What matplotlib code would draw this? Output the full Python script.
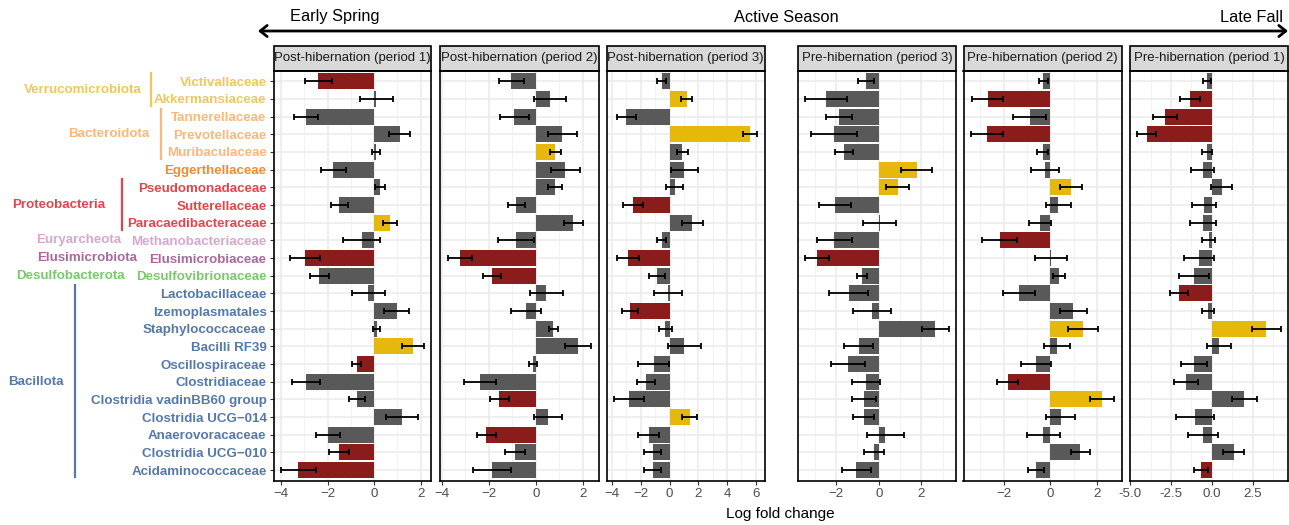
import matplotlib

matplotlib.use("Agg")
import matplotlib.pyplot as plt
import matplotlib.transforms as mtransforms
from matplotlib.patches import FancyArrowPatch, Rectangle
from matplotlib.ticker import FormatStrFormatter, MultipleLocator

# rows, top to bottom
families = [
    "Victivallaceae", "Akkermansiaceae", "Tannerellaceae", "Prevotellaceae",
    "Muribaculaceae", "Eggerthellaceae", "Pseudomonadaceae", "Sutterellaceae",
    "Paracaedibacteraceae", "Methanobacteriaceae", "Elusimicrobiaceae",
    "Desulfovibrionaceae", "Lactobacillaceae", "Izemoplasmatales",
    "Staphylococcaceae", "Bacilli RF39", "Oscillospiraceae", "Clostridiaceae",
    "Clostridia vadinBB60 group", "Clostridia UCG\u2212014", "Anaerovoracaceae",
    "Clostridia UCG\u2212010", "Acidaminococcaceae",
]
phyla = (["Verrucomicrobiota"] * 2 + ["Bacteroidota"] * 3 + [""]
         + ["Proteobacteria"] * 3 + ["Euryarcheota", "Elusimicrobiota",
                                     "Desulfobacterota"] + ["Bacillota"] * 11)

periods = [
    "Post-hibernation (period 1)", "Post-hibernation (period 2)",
    "Post-hibernation (period 3)", "Pre-hibernation (period 3)",
    "Pre-hibernation (period 2)", "Pre-hibernation (period 1)",
]

# log fold change, standard error, significance flag per period
post1_lfc = [-2.40, 0.10, -2.93, 1.10, 0.08, -1.76, 0.24, -1.50, 0.69, -0.54, -2.96, -2.36,
             -0.26, 0.97, 0.11, 1.67, -0.74, -2.93, -0.74, 1.19, -1.99, -1.50, -3.26]
post1_se = [0.57, 0.71, 0.50, 0.44, 0.18, 0.54, 0.22, 0.36, 0.31, 0.78, 0.65, 0.41,
            0.71, 0.53, 0.14, 0.49, 0.19, 0.60, 0.36, 0.68, 0.51, 0.44, 0.76]
post1_sig = [1, 0, 0, 0, 0, 0, 0, 0, 1, 0, 1, 0, 0, 0, 0, 1, 1, 0, 0, 0, 0, 1, 1]

post2_lfc = [-1.05, 0.60, -0.91, 1.12, 0.82, 1.25, 0.82, -0.84, 1.59, -0.84, -3.22, -1.86,
             0.44, -0.41, 0.74, 1.80, -0.11, -2.37, -1.56, 0.52, -2.11, -0.88, -1.86]
post2_se = [0.53, 0.66, 0.62, 0.62, 0.23, 0.60, 0.30, 0.36, 0.40, 0.77, 0.52, 0.38,
            0.70, 0.63, 0.18, 0.55, 0.17, 0.67, 0.40, 0.59, 0.40, 0.41, 0.79]
post2_sig = [0, 0, 0, 0, 1, 0, 0, 0, 0, 0, 1, 1, 0, 0, 0, 0, 0, 0, 1, 0, 1, 0, 0]

post3_lfc = [-0.55, 1.18, -3.00, 5.61, 0.90, 1.04, 0.35, -2.54, 1.59, -0.55, -2.91, -0.90,
             -0.10, -2.77, -0.28, 1.04, -1.11, -1.66, -2.84, 1.39, -1.45, -1.18, -1.18]
post3_se = [0.32, 0.37, 0.67, 0.49, 0.40, 0.96, 0.58, 0.67, 0.73, 0.29, 0.76, 0.56,
            1.00, 0.55, 0.42, 1.13, 1.06, 0.63, 1.04, 0.54, 0.75, 0.59, 0.59]
post3_sig = [0, 1, 0, 1, 0, 0, 0, 1, 0, 0, 1, 0, 0, 1, 0, 0, 0, 0, 0, 1, 0, 0, 0]

pre3_lfc = [-0.59, -2.47, -1.86, -2.09, -1.63, 1.77, 0.88, -2.05, 0.05, -2.09, -2.88, -0.79,
            -1.40, -0.33, 2.65, -0.93, -1.44, -0.60, -0.70, -0.70, 0.31, -0.23, -1.04]
pre3_se = [0.37, 0.97, 0.61, 1.06, 0.42, 0.73, 0.56, 0.74, 0.77, 0.82, 0.55, 0.22,
           0.92, 0.89, 0.63, 0.68, 0.79, 0.66, 0.56, 0.50, 0.87, 0.46, 0.66]
pre3_sig = [0, 0, 0, 0, 0, 1, 1, 0, 0, 0, 1, 0, 0, 0, 0, 0, 0, 0, 0, 0, 0, 0, 0]

pre2_lfc = [-0.30, -2.68, -0.89, -2.72, -0.34, -0.24, 0.88, 0.33, -0.45, -2.17, 0.02, 0.37,
            -1.36, 0.98, 1.40, 0.28, -0.62, -1.83, 2.21, 0.43, -0.30, 1.28, -0.62]
pre2_se = [0.20, 0.67, 0.70, 0.69, 0.23, 0.60, 0.46, 0.54, 0.47, 0.75, 0.70, 0.26,
           0.68, 0.57, 0.63, 0.56, 0.66, 0.44, 0.52, 0.64, 0.70, 0.39, 0.35]
pre2_sig = [0, 1, 0, 1, 0, 0, 1, 0, 0, 1, 0, 0, 0, 0, 1, 0, 0, 1, 1, 0, 0, 0, 0]

pre1_lfc = [-0.30, -1.34, -2.87, -4.00, -0.30, -0.55, 0.61, -0.49, -0.55, -0.18, -0.79, -1.10,
            -2.01, -0.24, 3.35, 0.43, -1.10, -1.59, 1.99, -1.04, -0.55, 1.34, -0.67]
pre1_se = [0.23, 0.59, 0.73, 0.58, 0.28, 0.71, 0.64, 0.72, 0.81, 0.40, 0.91, 0.94,
           0.55, 0.39, 0.88, 0.73, 0.78, 0.74, 0.75, 1.15, 0.93, 0.66, 0.45]
pre1_sig = [0, 1, 1, 1, 0, 0, 0, 0, 0, 0, 0, 0, 1, 0, 1, 0, 0, 0, 0, 0, 0, 0, 1]

panel_data = [
    (post1_lfc, post1_se, post1_sig), (post2_lfc, post2_se, post2_sig),
    (post3_lfc, post3_se, post3_sig), (pre3_lfc, pre3_se, pre3_sig),
    (pre2_lfc, pre2_se, pre2_sig), (pre1_lfc, pre1_se, pre1_sig),
]

phylum_colors = {
    "Verrucomicrobiota": "#EEC85C", "Bacteroidota": "#FAB87C", "": "#F28A2E",
    "Proteobacteria": "#E1464E", "Euryarcheota": "#D6A7CF",
    "Elusimicrobiota": "#A8699D", "Desulfobacterota": "#79C96C",
    "Bacillota": "#5679A8",
}
BAR_DOWN, BAR_UP, BAR_NS = "#8B1C1C", "#E5B80B", "#595959"

W, H = 1289, 525
plt.rcParams["font.family"] = ["Liberation Sans", "DejaVu Sans"]
fig = plt.figure(figsize=(W / 100, H / 100), dpi=100)

panel_left = [273.5, 440.5, 606.5, 798.0, 963.5, 1130.0]
panel_w = 158.0
panel_top, panel_bot = 70.7, 480.7
strip_h = 24.7
rows = list(range(len(families)))

axes = []
for i, (lfc, se, sig) in enumerate(panel_data):
    ax = fig.add_axes([panel_left[i] / W, (H - panel_bot) / H, panel_w / W,
                       (panel_bot - panel_top) / H])
    colors = [BAR_NS if not s else (BAR_UP if v > 0 else BAR_DOWN) for v, s in zip(lfc, sig)]
    ax.barh(rows, lfc, height=0.9, color=colors, zorder=2)
    ax.errorbar(lfc, rows, xerr=se, fmt="none", ecolor="black", elinewidth=1.3,
                capsize=2, capthick=1.3, zorder=3)
    # free x scale per panel with 5% padding around the error bars
    lo = min(v - e for v, e in zip(lfc, se))
    hi = max(v + e for v, e in zip(lfc, se))
    pad = 0.05 * (hi - lo)
    ax.set_xlim(lo - pad, hi + pad)
    ax.set_ylim(len(families) - 0.4, -0.6)
    ax.set_yticks(rows)
    if i == 5:
        ax.xaxis.set_major_locator(MultipleLocator(2.5))
        ax.xaxis.set_minor_locator(MultipleLocator(1.25))
        ax.xaxis.set_major_formatter(FormatStrFormatter("%.1f"))
    else:
        ax.xaxis.set_major_locator(MultipleLocator(2))
        ax.xaxis.set_minor_locator(MultipleLocator(1))
    ax.set_axisbelow(True)
    ax.grid(which="major", color="#EBEBEB", lw=1.1)
    ax.grid(which="minor", axis="x", color="#F0F0F0", lw=0.6)
    for sp in ax.spines.values():
        sp.set_color("black")
        sp.set_linewidth(1.2)
    ax.tick_params(axis="x", which="major", length=3, color="#333333",
                   labelsize=9.6, labelcolor="#4D4D4D", pad=2)
    ax.tick_params(axis="x", which="minor", length=0)
    if i == 0:
        ax.set_yticklabels(families, fontweight="bold", fontsize=9.6)
        for lab, ph in zip(ax.get_yticklabels(), phyla):
            lab.set_color(phylum_colors[ph])
        ax.tick_params(axis="y", length=3, color="#333333", pad=2)
    else:
        ax.tick_params(axis="y", length=0, labelleft=False)
    # facet strip
    sh = strip_h / (panel_bot - panel_top)
    ax.add_patch(Rectangle((0, 1), 1, sh, transform=ax.transAxes, clip_on=False,
                           facecolor="#D9D9D9", edgecolor="black", lw=1.2))
    ax.text(0.5, 1 + sh / 2, periods[i], transform=ax.transAxes, ha="center",
            va="center", fontsize=9.5, color="#1A1A1A")
    axes.append(ax)

# phylum labels and brackets to the left of the family names
ax0 = axes[0]
trans = mtransforms.blended_transform_factory(fig.transFigure, ax0.transData)
phylum_label_x = {
    "Verrucomicrobiota": 83, "Bacteroidota": 108.5, "Proteobacteria": 58.5,
    "Euryarcheota": 79, "Elusimicrobiota": 87, "Desulfobacterota": 70,
    "Bacillota": 35.5,
}
bracket_x = {"Verrucomicrobiota": 151, "Bacteroidota": 161,
             "Proteobacteria": 122, "Bacillota": 75}
for ph, xpx in phylum_label_x.items():
    idx = [r for r, p in zip(rows, phyla) if p == ph]
    ymid = (idx[0] + idx[-1]) / 2
    ax0.text(xpx / W, ymid, ph, transform=trans, ha="center", va="center",
             fontsize=9.6, fontweight="bold", color=phylum_colors[ph], clip_on=False)
    if ph in bracket_x:
        bx = bracket_x[ph] / W
        ax0.plot([bx, bx], [idx[0] - 0.45, idx[-1] + 0.4], transform=trans,
                 color=phylum_colors[ph], lw=1.6, clip_on=False)

# season arrow on top
fig.add_artist(FancyArrowPatch(
    (258 / W, 1 - 31 / H), (1288 / W, 1 - 31 / H), transform=fig.transFigure,
    arrowstyle="<->,head_length=5,head_width=4", lw=2, color="black",
    shrinkA=0, shrinkB=0))
fig.text(290 / W, 1 - 17 / H, "Early Spring", ha="left", va="center", fontsize=11.8)
fig.text(786 / W, 1 - 17 / H, "Active Season", ha="center", va="center", fontsize=11.8)
fig.text(1283 / W, 1 - 17 / H, "Late Fall", ha="right", va="center", fontsize=11.8)

fig.text(780 / W, 1 - 514 / H, "Log fold change", ha="center", va="center",
         fontsize=11)

fig.savefig("out.png", dpi=100)
